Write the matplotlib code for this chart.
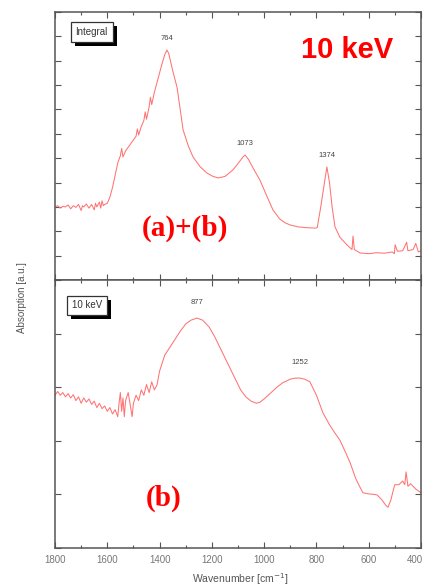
import matplotlib
matplotlib.use('Agg')
import matplotlib.pyplot as plt
import matplotlib.patheffects as pe
import matplotlib.transforms as mtransforms
from matplotlib.ticker import MultipleLocator

# top panel: integral spectrum (wavenumber, absorption in arbitrary units)
top_wn = [1800, 1790, 1780, 1770, 1760, 1750, 1740, 1730, 1720, 1710, 1700, 1695, 1690, 1680,
          1670, 1660, 1650, 1645, 1640, 1630, 1625, 1620, 1615, 1610, 1600, 1590, 1580, 1570,
          1560, 1550, 1545, 1540, 1530, 1520, 1510, 1500, 1490, 1485, 1480, 1470, 1460, 1455,
          1450, 1440, 1435, 1430, 1420, 1410, 1400, 1390, 1380, 1372, 1365, 1350, 1333, 1310,
          1290, 1272, 1245, 1219, 1195, 1176, 1150, 1119, 1095, 1081, 1073, 1060, 1040, 1016,
          990, 966, 940, 920, 901, 870, 840, 805, 797, 785, 772, 760, 750, 740, 729, 710, 683,
          664, 660, 655, 633, 600, 570, 540, 510, 502, 499, 490, 470, 455, 450, 430, 420, 410, 400]
top_abs = [3.00, 3.05, 2.95, 3.02, 3.00, 3.08, 2.92, 3.05, 2.98, 3.10, 2.85, 3.05, 3.00, 3.12,
           2.95, 3.10, 2.88, 3.15, 3.00, 3.20, 2.95, 3.25, 3.05, 3.10, 3.15, 3.40, 3.80, 4.30,
           4.80, 5.10, 5.40, 5.05, 5.30, 5.45, 5.60, 5.75, 5.90, 6.20, 5.95, 6.30, 6.55, 6.90,
           6.60, 7.10, 7.50, 7.20, 7.70, 8.10, 8.50, 8.90, 9.25, 9.44, 9.30, 8.60, 7.90, 6.16,
           5.50, 5.05, 4.65, 4.39, 4.25, 4.19, 4.25, 4.52, 4.85, 5.05, 5.13, 4.95, 4.55, 4.10,
           3.45, 2.87, 2.50, 2.35, 2.26, 2.18, 2.15, 2.13, 2.15, 2.90, 3.80, 4.64, 4.00, 3.00,
           2.18, 1.75, 1.44, 1.25, 1.80, 1.25, 1.11, 1.08, 1.12, 1.10, 1.15, 1.08, 1.45, 1.18,
           1.20, 1.55, 1.20, 1.25, 1.50, 1.15, 1.20]

# bottom panel: 10 keV spectrum
bot_wn = [1800, 1790, 1780, 1770, 1760, 1750, 1740, 1730, 1720, 1710, 1700, 1690, 1680, 1670,
          1660, 1650, 1640, 1630, 1620, 1610, 1600, 1590, 1580, 1570, 1560, 1555, 1550, 1545,
          1540, 1535, 1530, 1520, 1510, 1505, 1500, 1490, 1480, 1470, 1460, 1450, 1440, 1430,
          1420, 1410, 1400, 1390, 1380, 1360, 1340, 1320, 1300, 1280, 1257, 1235, 1210, 1190,
          1170, 1150, 1130, 1110, 1090, 1070, 1050, 1030, 1016, 1000, 980, 951, 930, 900, 880,
          863, 845, 825, 800, 775, 750, 730, 710, 690, 671, 650, 635, 622, 600, 580, 568, 550,
          535, 526, 515, 505, 500, 485, 470, 462, 457, 450, 440, 430, 420, 400]
bot_abs = [2.85, 2.92, 2.85, 2.90, 2.82, 2.88, 2.80, 2.86, 2.75, 2.82, 2.70, 2.80, 2.72, 2.78,
           2.68, 2.74, 2.62, 2.70, 2.60, 2.65, 2.55, 2.62, 2.50, 2.58, 2.45, 2.70, 2.90, 2.55,
           2.80, 2.45, 2.75, 2.90, 2.60, 2.45, 2.70, 2.85, 2.75, 2.95, 2.85, 3.05, 2.90, 3.10,
           2.95, 3.04, 3.30, 3.45, 3.60, 3.75, 3.90, 4.05, 4.18, 4.25, 4.29, 4.25, 4.12, 3.95,
           3.75, 3.55, 3.35, 3.15, 2.95, 2.82, 2.74, 2.70, 2.72, 2.78, 2.87, 3.00, 3.08, 3.15, 3.17,
           3.17, 3.15, 3.10, 2.85, 2.52, 2.30, 2.15, 2.01, 1.80, 1.59, 1.30, 1.15, 1.03, 1.01, 1.00,
           0.99, 0.90, 0.80, 0.76, 0.90, 1.10, 1.18, 1.18, 1.25, 1.18, 1.42, 1.15, 1.20, 1.15, 1.10,
           1.03]

top_peaks = [('764', 1372, 9.75), ('1073', 1073, 5.45), ('1374', 760, 4.95)]
bot_peaks = [('877', 1257, 4.52), ('1252', 863, 3.40)]

xticks = [1800, 1600, 1400, 1200, 1000, 800, 600, 400]

line_col = '#ff7373'
frame_col = '#555555'

fig = plt.figure(figsize=(4.27, 5.88), dpi=100)
ax1 = fig.add_axes([55 / 427, 308 / 588, 366 / 427, 268 / 588])
ax2 = fig.add_axes([55 / 427, 40 / 588, 366 / 427, 268 / 588])


def style(ax, ymax, show_labels):
    ax.set_xlim(1800, 400)
    ax.set_ylim(0, ymax)
    ax.set_xticks(xticks)
    ax.xaxis.set_minor_locator(MultipleLocator(100))
    ax.yaxis.set_major_locator(MultipleLocator(1))
    ax.tick_params(which='both', direction='in', top=True, right=True,
                   color=frame_col, width=0.8, labelleft=False)
    ax.tick_params(which='major', length=4)
    ax.tick_params(which='minor', length=2.5)
    ax.tick_params(axis='x', labelbottom=show_labels, labelsize=7,
                   labelcolor='#777777', pad=5)
    for s in ax.spines.values():
        s.set_color(frame_col)
        s.set_linewidth(1.1)
    for lab in ax.get_xticklabels():
        lab.set_family('Liberation Sans')


style(ax1, 11, False)
style(ax2, 5, True)

# nudge the last tick label so it stays inside the figure
last = ax2.get_xticklabels()[-1]
last.set_transform(last.get_transform() +
                   mtransforms.ScaledTranslation(-6 / 100, 0, fig.dpi_scale_trans))

ax1.plot(top_wn, top_abs, color=line_col, lw=0.75)
ax2.plot(bot_wn, bot_abs, color=line_col, lw=0.75)

for ax, peaks in ((ax1, top_peaks), (ax2, bot_peaks)):
    for txt, x, y in peaks:
        ax.text(x, y, txt, fontsize=5.5, color='#444444', ha='center', va='bottom',
                family='Liberation Sans')


def boxed(ax, x, y, txt):
    t = ax.text(x, y, txt, transform=ax.transAxes, fontsize=7, color='#333333',
                ha='center', va='center', family='Liberation Sans',
                bbox=dict(boxstyle='square,pad=0.5', fc='white', ec='#333333', lw=0.9))
    t.get_bbox_patch().set_path_effects([
        pe.SimplePatchShadow(offset=(3, -3), shadow_rgbFace='black', alpha=1),
        pe.Normal()])


boxed(ax1, 0.10, 0.925, 'Integral')
boxed(ax2, 0.087, 0.905, '10 keV')

fig.text(347 / 427, 1 - 50 / 588, '10 keV', color='#ff0000', fontsize=21,
         fontweight='bold', family='Liberation Sans', ha='center', va='center')
fig.text(185 / 427, 1 - 228 / 588, '(a)+(b)', color='#ff0000', fontsize=21,
         fontweight='bold', family='Liberation Serif', ha='center', va='center')
fig.text(164 / 427, 1 - 498 / 588, '(b)', color='#ff0000', fontsize=21,
         fontweight='bold', family='Liberation Serif', ha='center', va='center')

fig.text(240 / 427, 1 - 579 / 588, 'Wavenumber [cm$^{-1}$]', fontsize=7.5, color='#555555',
         ha='center', va='center', family='Liberation Sans')
fig.text(22 / 427, 1 - 298 / 588, 'Absorption [a.u.]', fontsize=7, color='#555555',
         ha='center', va='center', rotation=90, family='Liberation Sans')

fig.savefig('out.png', dpi=100)
